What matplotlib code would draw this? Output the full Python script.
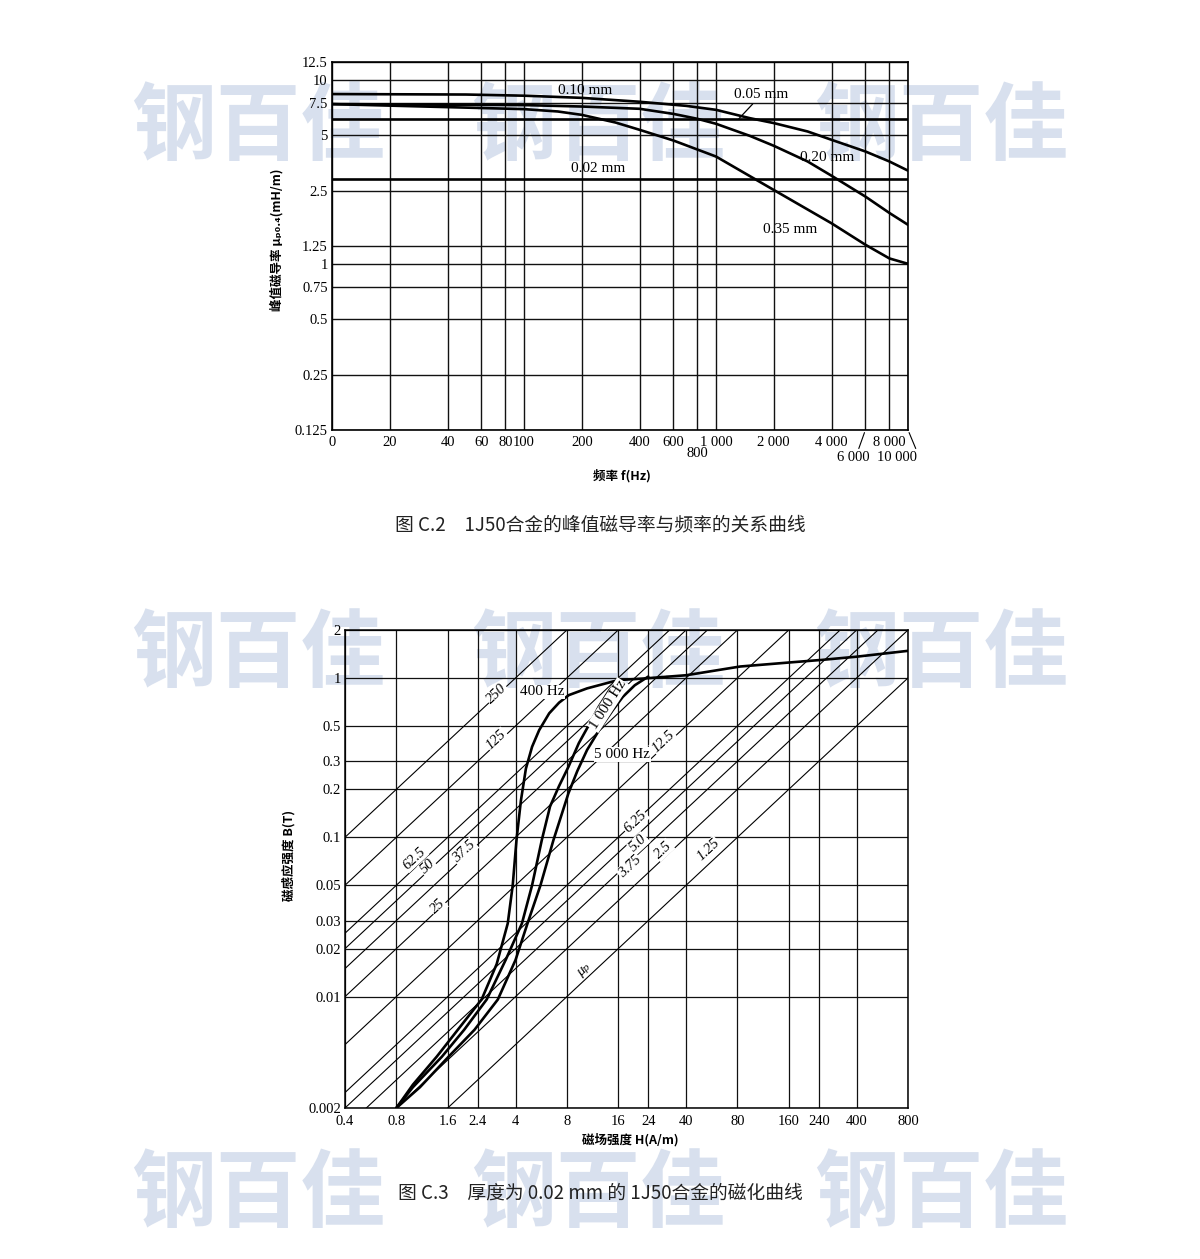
import numpy as np
import matplotlib.pyplot as plt

CJK = ['Noto Sans CJK SC', 'DejaVu Sans']
SERIF = ['Liberation Serif', 'DejaVu Serif']

# ---------- figure C.2 : peak permeability vs frequency ----------
# the axis origin labelled "0" sits where 10 Hz would be on the log scale
freq_ticks = [10, 20, 40, 60, 80, 100, 200, 400, 600, 800, 1000, 2000, 4000, 6000, 8000, 10000]
freq_labels = ['0', '20', '40', '60', '80', '100', '200', '400', '600', '',
               '1 000', '2 000', '4 000', '', '8 000', '']
mu_ticks = [0.125, 0.25, 0.5, 0.75, 1, 1.25, 2.5, 5, 7.5, 10, 12.5]
mu_labels = ['0.125', '0.25', '0.5', '0.75', '1', '1.25', '2.5', '5', '7.5', '10', '12.5']

freq_010 = [10, 50, 100, 200, 400, 700, 1000, 1500, 2000, 3000, 4000, 6000, 8000, 10000]
mu_010 = [8.37, 8.32, 8.2, 7.98, 7.6, 7.22, 6.87, 6.19, 5.82, 5.24, 4.72, 4.08, 3.6, 3.21]
freq_020 = [10, 100, 200, 400, 600, 800, 1000, 1500, 2000, 3000, 4000, 6000, 8000, 10000]
mu_020 = [7.38, 7.29, 7.16, 6.96, 6.53, 6.14, 5.77, 4.96, 4.38, 3.6, 3.01, 2.32, 1.89, 1.63]
freq_035 = [10, 100, 150, 200, 300, 400, 600, 1000, 2000, 4000, 6000, 8000, 10000]
mu_035 = [7.38, 6.93, 6.73, 6.45, 5.86, 5.35, 4.68, 3.83, 2.52, 1.66, 1.27, 1.07, 1.0]
freq_flat = [10, 10000]
mu_005 = [6.1, 6.1]
mu_002 = [2.9, 2.9]

# ---------- figure C.3 : magnetisation curves ----------
h_ticks = [0.4, 0.8, 1.6, 2.4, 4, 8, 16, 24, 40, 80, 160, 240, 400, 800]
h_labels = ['0.4', '0.8', '1.6', '2.4', '4', '8', '16', '24', '40', '80', '160', '240', '400', '800']
b_ticks = [0.002, 0.01, 0.02, 0.03, 0.05, 0.1, 0.2, 0.3, 0.5, 1, 2]
b_labels = ['0.002', '0.01', '0.02', '0.03', '0.05', '0.1', '0.2', '0.3', '0.5', '1', '2']

h_400 = [0.8, 1.0, 1.38, 1.9, 2.53, 3.1, 3.6, 3.85, 4.05, 4.3, 4.6, 5.0, 5.5, 6.3, 7.2, 8.2,
         10.5, 16]
b_400 = [0.002, 0.0028, 0.0042, 0.0065, 0.0096, 0.016, 0.0288, 0.05, 0.096, 0.17, 0.27,
         0.37, 0.47, 0.6, 0.7, 0.78, 0.86, 0.97]
h_1000 = [0.8, 1.0, 1.48, 2.0, 2.71, 3.5, 4.36, 5.0, 5.7, 6.37, 7.2, 8.17, 9.4, 10.9, 12.3,
          14.2, 16]
b_1000 = [0.002, 0.0027, 0.0042, 0.0062, 0.0096, 0.017, 0.0288, 0.05, 0.096, 0.156, 0.21,
          0.277, 0.39, 0.519, 0.66, 0.84, 0.97]
h_5000 = [0.8, 1.1, 1.62, 2.3, 3.15, 4.0, 4.7, 5.6, 6.67, 8.17, 9.2, 10.5, 12.5, 14.9, 17,
          20, 24]
b_5000 = [0.002, 0.0027, 0.0042, 0.0062, 0.0096, 0.017, 0.0288, 0.05, 0.096, 0.189, 0.26,
          0.353, 0.48, 0.63, 0.76, 0.9, 1.02]
h_sat = [16, 22, 40, 83, 160, 253, 400, 800]
b_sat = [0.97, 0.99, 1.04, 1.18, 1.25, 1.30, 1.36, 1.48]

# constant peak permeability lines (mH/m)
mu_lines = [250, 125, 62.5, 50, 37.5, 25, 12.5, 6.25, 5.0, 3.75, 2.5, 1.25]
mu_line_labels = ['250', '125', '62.5', '50', '37.5', '25', '12.5', '6.25', '5.0', '3.75', '2.5', '1.25']
mu_label_h = [3.1, 3.1, 1.02, 1.22, 2.0, 1.4, 29.4, 20.1, 21.0, 18.7, 29.3, 53.8]
mu_label_b = [0.797, 0.408, 0.0738, 0.0653, 0.0813, 0.0367, 0.398, 0.125, 0.0917, 0.0653, 0.0832, 0.0832]

W, H = 1200, 1259
fig = plt.figure(figsize=(W / 100, H / 100), dpi=100)


def box(x0, y0, x1, y1):
    return [x0 / W, 1 - y1 / H, (x1 - x0) / W, (y1 - y0) / H]


def px(x, y):
    return x / W, 1 - y / H


# watermark behind everything
for wy in (128, 655, 1195):
    for wx in (258, 598, 941):
        fig.text(*px(wx, wy), '钢百佳', family=CJK, fontsize=61, fontweight='bold',
                 color='#d8e0ee', ha='center', va='center', zorder=-5)

# ---- top chart ----
ax1 = fig.add_axes(box(332, 62, 908, 430))
ax1.patch.set_alpha(0)
ax1.set_xscale('log')
ax1.set_yscale('log')
ax1.set_xlim(10, 10000)
ax1.set_ylim(0.125, 12.5)
ax1.set_xticks(freq_ticks)
ax1.set_xticklabels(freq_labels, family=SERIF, fontsize=10.5)
ax1.set_yticks(mu_ticks)
ax1.set_yticklabels(mu_labels, family=SERIF, fontsize=10.5)
ax1.minorticks_off()
ax1.tick_params(length=0, pad=3)
ax1.tick_params(axis='x', pad=4)
ax1.grid(True, color='#111111', lw=1.0)
for s in ax1.spines.values():
    s.set_linewidth(1.2)

curve_kw = dict(color='black', lw=1.9, solid_capstyle='round', solid_joinstyle='round')
ax1.plot(freq_010, mu_010, **curve_kw)
ax1.plot(freq_020, mu_020, **curve_kw)
ax1.plot(freq_035, mu_035, **curve_kw)
ax1.plot(freq_flat, mu_005, **curve_kw)
ax1.plot(freq_flat, mu_002, **curve_kw)

lab_kw = dict(family=SERIF, fontsize=11, ha='center', va='center')
ax1.text(208, 8.74, '0.10 mm', **lab_kw)
ax1.text(243, 3.28, '0.02 mm', **lab_kw)
ax1.text(3770, 3.8, '0.20 mm', **lab_kw)
ax1.text(2420, 1.53, '0.35 mm', **lab_kw)
ax1.annotate('0.05 mm', xy=(1316, 6.15), xytext=(1723, 8.3), textcoords='data',
             arrowprops=dict(arrowstyle='-', lw=0.9, shrinkA=0, shrinkB=0), **lab_kw)

tick_kw = dict(family=SERIF, fontsize=10.5, ha='center', va='center')
ax1.annotate('800', xy=(800, 0), xycoords=('data', 'axes fraction'),
             xytext=(0, -17), textcoords='offset points', **tick_kw)
ax1.annotate('6 000', xy=(6000, 0), xycoords=('data', 'axes fraction'),
             xytext=(-9, -20), textcoords='offset points',
             arrowprops=dict(arrowstyle='-', lw=0.8, shrinkA=0, shrinkB=2,
                             relpos=(0.65, 1.0)), **tick_kw)
ax1.annotate('10 000', xy=(10000, 0), xycoords=('data', 'axes fraction'),
             xytext=(-8, -20), textcoords='offset points',
             arrowprops=dict(arrowstyle='-', lw=0.8, shrinkA=0, shrinkB=2,
                             relpos=(1.0, 1.0)), **tick_kw)

fig.text(*px(622, 476), '频率 f(Hz)', family=CJK, fontsize=9, fontweight='bold',
         ha='center', va='center')
fig.text(*px(277, 240), '峰值磁导率 μₚ₀.₄(mH/m)', family=CJK, fontsize=9,
         fontweight='bold', rotation=90, ha='center', va='center')
fig.text(*px(600, 525), '图 C.2　1J50合金的峰值磁导率与频率的关系曲线', family=CJK,
         fontsize=13.5, ha='center', va='center', color='#222222')

# ---- bottom chart ----
ax2 = fig.add_axes(box(345, 630, 908, 1108))
ax2.patch.set_alpha(0)
ax2.set_xscale('log')
ax2.set_yscale('log')
ax2.set_xlim(0.4, 800)
ax2.set_ylim(0.002, 2)
ax2.set_xticks(h_ticks)
ax2.set_xticklabels(h_labels, family=SERIF, fontsize=10.5)
ax2.set_yticks(b_ticks)
ax2.set_yticklabels(b_labels, family=SERIF, fontsize=10.5)
ax2.minorticks_off()
ax2.tick_params(length=0, pad=3)
ax2.tick_params(axis='x', pad=5)
ax2.grid(True, color='#111111', lw=0.9)
for s in ax2.spines.values():
    s.set_linewidth(1.1)

h_edge = np.array(ax2.get_xlim())
for mu in mu_lines:
    ax2.plot(h_edge, mu * 1e-3 * h_edge, color='black', lw=0.8)

ax2.plot(h_400, b_400, **curve_kw)
ax2.plot(h_1000, b_1000, **curve_kw)
ax2.plot(h_5000, b_5000, **curve_kw)
ax2.plot(h_sat, b_sat, **curve_kw)

# slope angle of the permeability lines on screen
p0 = ax2.transData.transform((1, 1e-3))
p1 = ax2.transData.transform((100, 1e-1))
ang = np.degrees(np.arctan2(p1[1] - p0[1], p1[0] - p0[0]))
wbox = dict(facecolor='white', edgecolor='none', pad=0.6)
for lbl, hx, by in zip(mu_line_labels, mu_label_h, mu_label_b):
    ax2.text(hx, by, lbl, family=SERIF, fontsize=10.5, style='italic', rotation=ang,
             ha='center', va='center', rotation_mode='anchor', bbox=wbox)
ax2.text(9.96, 0.0147, 'μₚ', family=SERIF, fontsize=10.5, style='italic', rotation=ang,
         ha='center', va='center', rotation_mode='anchor', bbox=wbox)

ax2.text(5.72, 0.817, '400 Hz', family=SERIF, fontsize=11, ha='center', va='center', bbox=wbox)
ax2.text(13.9, 0.676, '1 000 Hz', family=SERIF, fontsize=11, ha='center', va='center',
         rotation=57, rotation_mode='anchor', bbox=wbox)
ax2.text(16.9, 0.33, '5 000 Hz', family=SERIF, fontsize=11, ha='center', va='center', bbox=wbox)

fig.text(*px(630, 1140), '磁场强度 H(A/m)', family=CJK, fontsize=9, fontweight='bold',
         ha='center', va='center')
fig.text(*px(289, 855), '磁感应强度 B(T)', family=CJK, fontsize=9, fontweight='bold',
         rotation=90, ha='center', va='center')
fig.text(*px(600, 1193), '图 C.3　厚度为 0.02 mm 的 1J50合金的磁化曲线', family=CJK,
         fontsize=13.5, ha='center', va='center', color='#222222')

fig.savefig('out.png', dpi=100, facecolor='white')
